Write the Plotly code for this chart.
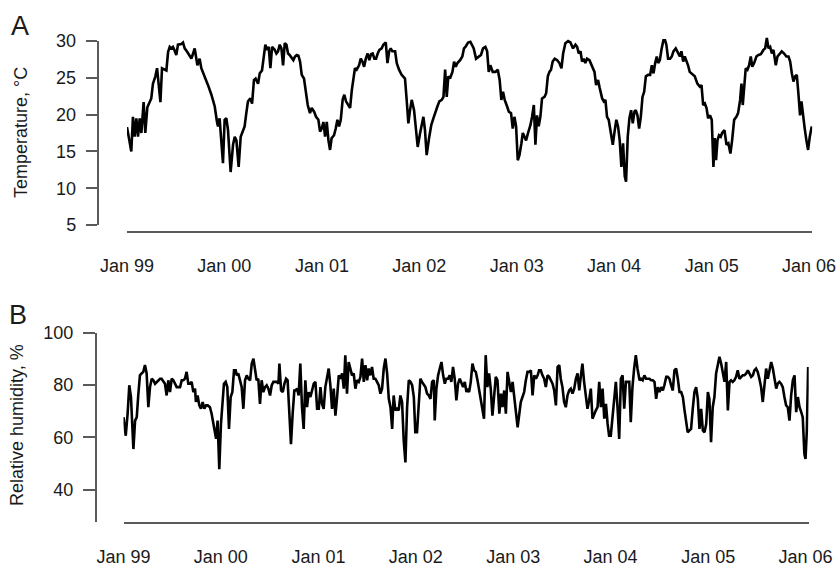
import numpy as np
import pandas as pd
import plotly.graph_objects as go

# ---------------- data (weeks since 1 Jan 1999, values) ----------------
temp_weeks = [0.0, 2.3, 3.2, 4.1, 5.0, 5.9, 6.8, 7.7, 8.9, 9.8, 10.9, 12.1, 13.0, 13.9, 15.2, 16.1, 17.0, 17.9, 18.75, 20.2,
              21.1, 22.0, 22.9, 23.75, 24.6, 25.5, 26.4, 27.3, 29.1, 30.0, 30.9, 32.3, 33.6, 34.5, 35.4, 36.25, 37.7, 38.9, 39.8, 41.6,
              43.4, 45.2, 47.0, 48.2, 48.75, 49.6, 50.5, 51.4, 52.3, 53.2, 54.1, 55.5, 56.8, 57.7, 58.6, 59.8, 60.9, 62.1, 63.0, 63.9,
              64.8, 66.1, 67.0, 68.0, 68.9, 70.2, 71.1, 72.3, 73.2, 74.1, 75.0, 75.9, 76.8, 77.7, 79.1, 80.0, 80.9, 81.8, 82.7, 83.6,
              84.5, 85.4, 86.25, 87.1, 89.1, 90.0, 90.9, 91.8, 92.7, 93.6, 94.8, 95.9, 96.8, 98.0, 98.9, 100.2, 101.25, 102.5, 103.4, 104.3,
              105.2, 106.1, 107.0, 107.9, 108.75, 109.6, 110.9, 111.8, 112.7, 113.6, 114.5, 115.5, 116.4, 117.3, 118.6, 119.5, 120.4, 121.25, 122.1, 123.0,
              124.3, 125.2, 126.1, 127.0, 127.9, 128.9, 129.8, 130.7, 131.6, 132.5, 133.4, 134.3, 135.2, 136.4, 137.3, 138.6, 139.5, 140.4, 141.25, 142.1,
              143.6, 144.5, 145.7, 147.1, 148.9, 149.8, 150.7, 151.6, 152.5, 153.75, 154.8, 155.7, 157.0, 157.9, 158.75, 159.6, 160.5, 161.9, 163.0, 164.1,
              165.4, 166.25, 167.3, 168.6, 169.5, 170.4, 171.25, 172.1, 173.0, 174.3, 175.2, 176.1, 177.0, 178.4, 179.6, 180.5, 181.25, 182.7, 183.9, 184.8,
              185.7, 186.96, 188.4, 189.6, 190.7, 191.96, 192.9, 193.75, 194.6, 195.9, 197.3, 198.6, 199.6, 200.5, 201.4, 202.3, 203.6, 204.5, 205.7, 206.6,
              207.5, 208.4, 209.3, 210.2, 211.25, 212.0, 212.9, 213.75, 214.8, 216.1, 216.96, 217.9, 218.75, 219.6, 220.5, 221.4, 222.3, 223.6, 224.5, 225.4,
              226.25, 227.1, 228.0, 229.1, 230.4, 231.6, 232.7, 233.6, 234.8, 236.25, 237.5, 238.9, 240.2, 241.1, 241.96, 242.9, 243.75, 244.6, 245.5, 246.4,
              247.7, 249.1, 250.4, 251.25, 252.3, 253.2, 254.5, 255.4, 256.25, 257.1, 258.0, 258.9, 260.2, 261.25, 262.1, 263.0, 263.9, 264.8, 265.7, 266.6,
              267.3, 268.2, 269.1, 270.0, 270.9, 271.8, 272.5, 273.4, 274.3, 275.2, 276.1, 277.0, 277.9, 279.1, 280.2, 281.1, 282.0, 282.9, 283.75, 284.5,
              285.4, 286.25, 287.3, 288.2, 288.9, 289.8, 290.9, 291.8, 292.7, 293.9, 294.8, 296.1, 296.96, 297.9, 298.75, 299.6, 300.5, 301.4, 302.9, 304.1,
              305.5, 306.8, 307.7, 308.6, 309.5, 310.4, 311.25, 312.3, 313.2, 314.1, 314.8, 315.5, 316.25, 317.1, 318.0, 318.75, 320.0, 321.1, 322.1, 323.2,
              324.1, 325.2, 326.4, 327.3, 328.4, 329.1, 329.8, 330.5, 331.4, 332.3, 333.2, 334.1, 334.9, 335.9, 337.1, 338.2, 339.5, 340.9, 341.8, 342.7,
              343.6, 344.5, 345.4, 346.25, 347.5, 348.4, 349.6, 350.7, 351.96, 353.2, 354.3, 355.2, 356.1, 356.96, 357.9, 358.75, 359.6, 360.5, 361.25, 362.1,
              363.0, 363.9, 364.8, 365.7, 366.75]
temp_vals = [18.3, 15.0, 19.7, 17.0, 19.5, 17.0, 19.5, 17.5, 21.7, 17.5, 21.0, 21.7, 22.2, 24.2, 25.2, 26.3, 23.6, 21.7, 26.3, 26.1,
             26.0, 28.5, 29.2, 29.0, 29.2, 28.7, 28.1, 29.5, 29.6, 29.8, 29.0, 28.5, 27.9, 27.6, 28.3, 29.0, 26.7, 27.6, 26.3, 25.2,
             24.0, 22.7, 21.1, 19.0, 18.4, 19.5, 16.5, 13.4, 19.3, 19.5, 17.9, 12.2, 15.9, 17.0, 16.5, 12.9, 17.0, 17.7, 18.4, 20.2,
             21.8, 22.2, 21.5, 24.7, 24.9, 24.2, 25.6, 26.0, 27.6, 29.5, 28.8, 29.2, 26.3, 29.2, 28.8, 28.3, 28.6, 29.5, 29.0, 26.7,
             29.7, 29.5, 28.3, 28.1, 27.4, 27.9, 28.1, 28.0, 27.2, 25.4, 24.9, 22.7, 21.3, 20.2, 20.9, 20.4, 19.7, 19.3, 17.7, 18.1,
             19.0, 17.0, 19.0, 16.5, 15.2, 16.8, 17.2, 18.1, 19.3, 18.4, 19.3, 22.0, 22.7, 21.8, 21.3, 20.9, 23.3, 24.7, 26.3, 26.1,
             26.7, 27.6, 27.2, 26.5, 27.6, 28.3, 27.4, 28.2, 28.3, 27.6, 27.6, 28.3, 28.8, 29.0, 29.5, 29.8, 27.0, 28.6, 29.0, 28.6,
             28.6, 27.0, 26.1, 25.4, 24.9, 22.0, 18.8, 20.6, 22.0, 20.6, 17.9, 15.6, 17.5, 18.6, 19.7, 17.9, 14.5, 17.0, 18.6, 19.5,
             20.6, 21.1, 21.8, 22.0, 22.4, 26.1, 22.4, 25.2, 24.9, 25.8, 27.2, 26.5, 27.0, 27.4, 27.9, 29.0, 29.2, 29.8, 29.9, 29.5,
             29.0, 27.6, 27.9, 28.1, 29.0, 29.2, 28.6, 25.8, 26.7, 25.8, 25.8, 26.1, 24.7, 22.0, 23.1, 22.0, 21.1, 20.4, 20.2, 18.1,
             19.7, 18.4, 13.8, 14.5, 16.1, 17.5, 17.0, 16.5, 17.5, 18.6, 19.7, 21.3, 15.9, 19.9, 18.4, 19.7, 22.2, 22.4, 22.9, 25.2,
             25.8, 26.1, 27.2, 27.6, 27.4, 27.0, 26.3, 28.3, 29.7, 30.0, 29.8, 29.0, 29.5, 29.2, 28.3, 28.6, 27.2, 27.6, 27.0, 27.6,
             27.4, 26.5, 25.8, 24.0, 24.7, 23.6, 22.2, 21.8, 22.0, 19.7, 19.3, 17.9, 15.9, 17.9, 19.3, 18.4, 16.5, 12.9, 16.1, 11.6,
             10.9, 17.0, 19.5, 20.6, 18.8, 20.4, 20.6, 19.9, 18.1, 19.7, 22.4, 23.1, 25.2, 25.4, 25.4, 26.7, 25.6, 27.0, 27.9, 27.0,
             27.4, 28.8, 30.1, 30.1, 29.5, 27.6, 27.6, 27.9, 28.6, 29.0, 28.6, 27.9, 28.6, 27.2, 27.9, 27.4, 26.7, 25.8, 25.4, 25.2,
             24.2, 23.8, 24.0, 21.3, 21.5, 20.9, 19.5, 19.9, 19.3, 12.9, 16.8, 13.8, 16.5, 17.2, 17.0, 17.5, 17.9, 15.9, 16.1, 14.7,
             16.5, 19.3, 19.7, 20.2, 22.0, 24.2, 21.3, 23.6, 26.3, 26.1, 26.7, 27.9, 26.5, 27.0, 27.9, 28.1, 28.2, 28.8, 29.0, 30.4,
             29.0, 29.2, 28.3, 28.8, 26.7, 27.9, 28.3, 28.6, 28.3, 27.9, 27.9, 27.2, 25.6, 24.5, 25.2, 25.4, 22.9, 19.9, 21.8, 19.7,
             18.1, 16.5, 15.2, 17.0, 18.4]

rh_weeks = [0.0, 1.2, 2.2, 3.1, 4.0, 5.3, 6.2, 7.1, 7.9, 8.8, 9.7, 10.6, 11.5, 12.4, 13.3, 14.2, 15.1, 16.0, 16.9, 17.8,
            18.7, 19.6, 20.4, 21.3, 22.2, 23.1, 24.0, 24.9, 25.8, 26.7, 27.6, 28.5, 29.4, 30.3, 31.2, 32.1, 32.9, 33.8, 34.7, 35.6,
            36.5, 37.4, 38.3, 38.8, 39.7, 40.6, 41.5, 42.4, 43.3, 44.2, 45.1, 46.3, 47.2, 48.1, 49.0, 49.6, 50.4, 51.3, 52.2, 53.1,
            53.8, 54.7, 55.6, 56.5, 57.4, 58.3, 59.2, 60.1, 60.6, 61.5, 62.4, 63.3, 64.2, 65.1, 66.0, 66.9, 67.8, 68.7, 69.6, 70.4,
            71.3, 72.2, 73.1, 74.0, 74.9, 75.8, 76.7, 77.6, 78.5, 79.4, 80.3, 81.2, 82.1, 83.0, 83.5, 84.4, 85.3, 86.2, 87.1, 87.9,
            88.8, 89.7, 90.6, 91.5, 92.1, 93.0, 93.8, 94.7, 95.6, 96.5, 97.4, 98.3, 99.2, 100.1, 101.0, 101.9, 102.8, 103.7, 104.6, 105.5,
            106.3, 107.2, 108.1, 109.0, 109.9, 110.8, 111.7, 112.6, 113.5, 114.4, 115.3, 116.2, 117.1, 118.0, 118.8, 119.7, 120.6, 121.5, 122.4, 123.3,
            124.2, 125.1, 126.0, 126.9, 127.8, 128.7, 129.6, 130.5, 131.3, 132.2, 133.1, 134.0, 134.9, 135.8, 136.7, 137.6, 138.5, 139.4, 140.3, 141.2,
            142.1, 143.0, 143.9, 144.7, 145.6, 146.5, 147.4, 148.3, 149.2, 150.1, 151.0, 151.9, 152.8, 153.7, 154.6, 155.5, 156.3, 157.2, 158.1, 159.0,
            159.9, 160.8, 161.7, 162.6, 163.5, 164.4, 165.3, 166.2, 166.7, 167.6, 168.5, 169.4, 170.3, 171.2, 172.1, 172.9, 173.8, 174.7, 175.6, 176.5,
            177.4, 178.3, 179.2, 180.1, 181.0, 181.9, 182.8, 183.7, 184.2, 185.1, 186.0, 186.9, 187.8, 188.7, 189.6, 190.5, 191.3, 192.2, 193.1, 194.0,
            194.9, 195.8, 196.7, 197.6, 198.5, 199.4, 200.3, 201.3, 202.2, 203.0, 203.9, 204.8, 205.7, 206.6, 207.5, 208.4, 209.3, 210.2, 211.1, 212.0,
            212.8, 213.7, 214.6, 215.5, 216.4, 217.3, 218.2, 219.1, 220.0, 220.9, 221.8, 222.6, 223.5, 224.4, 225.3, 226.2, 227.1, 228.0, 228.9, 229.8,
            230.7, 231.6, 232.5, 233.4, 234.2, 235.1, 236.0, 236.9, 237.8, 238.7, 239.6, 240.5, 241.4, 242.3, 243.2, 244.1, 245.0, 245.8, 246.7, 247.6,
            248.5, 249.4, 250.3, 251.2, 252.1, 253.0, 253.9, 254.8, 255.7, 256.6, 257.5, 258.4, 259.3, 260.1, 261.0, 261.9, 262.8, 263.7, 264.6, 265.5,
            266.4, 267.3, 268.2, 269.1, 270.0, 270.9, 271.7, 272.6, 273.5, 274.4, 275.3, 276.4, 277.2, 278.1, 279.0, 279.9, 280.8, 281.7, 282.6, 283.5,
            284.4, 285.3, 286.2, 287.1, 288.0, 288.9, 289.7, 290.7, 291.5, 292.4, 293.3, 294.2, 295.1, 296.0, 296.9, 297.8, 298.7, 299.6, 300.5, 301.4,
            302.2, 303.1, 304.0, 304.9, 305.8, 306.7, 307.6, 308.5, 309.4, 310.3, 311.2, 312.1, 313.0, 313.8, 314.7, 315.6, 316.5, 317.4, 318.3, 319.2,
            320.1, 321.0, 321.9, 322.8, 323.7, 324.6, 325.4, 326.3, 327.2, 328.1, 329.0, 329.9, 330.8, 331.7, 332.6, 333.5, 334.4, 335.3, 336.2, 337.1,
            337.9, 338.8, 339.7, 340.6, 341.5, 342.4, 343.3, 344.2, 345.1, 346.0, 346.9, 347.8, 348.7, 349.6, 350.4, 351.3, 352.2, 353.1, 354.0, 354.9,
            355.8, 356.7, 357.6, 358.5, 359.4, 360.3, 361.2, 362.1, 363.0, 363.8, 364.7, 365.3, 366.0, 366.7]
rh_vals = [67.7, 60.6, 69.0, 79.9, 75.4, 55.5, 66.4, 67.7, 76.0, 83.7, 84.4, 85.0, 87.6, 84.4, 71.5, 79.2, 82.4, 81.8, 80.5, 81.2,
           81.8, 82.4, 82.4, 81.2, 80.5, 76.0, 81.8, 77.3, 82.4, 81.8, 80.5, 79.2, 79.2, 79.2, 81.8, 81.8, 82.4, 85.0, 80.5, 80.5,
           81.2, 77.3, 78.6, 73.5, 76.0, 72.2, 70.9, 73.5, 70.9, 72.2, 72.2, 71.5, 69.0, 65.1, 61.3, 59.4, 66.4, 47.8, 65.1, 74.1,
           80.5, 81.2, 79.2, 63.2, 75.4, 77.3, 85.6, 85.6, 83.7, 84.4, 81.8, 79.2, 70.9, 81.8, 83.7, 82.4, 81.8, 88.2, 90.1, 85.6,
           81.8, 82.4, 72.8, 81.8, 77.3, 79.2, 79.9, 78.6, 76.0, 79.9, 81.2, 81.2, 81.2, 80.5, 88.2, 77.9, 77.3, 80.5, 82.4, 81.8,
           69.0, 57.4, 69.0, 77.9, 77.9, 78.6, 76.0, 88.2, 71.5, 63.2, 81.8, 71.5, 77.3, 75.4, 77.9, 80.5, 81.2, 70.9, 70.9, 79.2,
           72.8, 70.9, 79.2, 83.7, 86.3, 79.9, 70.9, 78.6, 68.3, 75.4, 83.7, 82.4, 84.4, 78.6, 91.4, 76.7, 88.8, 86.3, 83.7, 84.4,
           78.6, 81.8, 81.2, 83.1, 90.1, 81.2, 87.6, 81.8, 86.3, 83.7, 86.9, 82.4, 82.4, 81.2, 79.9, 76.7, 78.6, 86.3, 90.1, 84.4,
           74.7, 71.5, 63.2, 76.0, 70.3, 70.9, 70.3, 76.0, 73.5, 58.7, 50.4, 71.5, 81.8, 81.2, 79.9, 75.4, 61.9, 61.9, 74.1, 82.4,
           81.2, 79.9, 79.2, 76.7, 76.0, 74.7, 81.2, 81.8, 66.4, 78.6, 83.7, 86.3, 88.8, 83.7, 80.5, 82.4, 82.4, 83.7, 81.2, 86.9,
           82.4, 74.1, 80.5, 82.4, 80.5, 79.2, 81.2, 77.3, 78.6, 77.3, 81.2, 88.2, 85.6, 85.0, 81.8, 77.9, 75.4, 70.9, 67.1, 91.4,
           79.2, 84.4, 78.6, 68.3, 76.0, 83.1, 81.8, 69.0, 76.7, 71.5, 77.9, 69.0, 85.0, 81.2, 77.3, 81.2, 76.0, 70.9, 63.8, 69.0,
           73.5, 75.4, 77.3, 81.8, 85.0, 85.0, 85.6, 76.0, 83.7, 82.4, 83.7, 85.6, 85.6, 83.7, 82.4, 79.2, 83.7, 83.1, 81.8, 80.5,
           77.9, 72.2, 86.9, 87.6, 82.4, 79.2, 73.5, 71.5, 76.0, 77.9, 78.6, 76.7, 78.6, 82.4, 84.4, 77.9, 83.7, 88.2, 81.2, 76.0,
           70.9, 74.1, 78.6, 67.1, 69.0, 70.3, 71.5, 81.2, 71.5, 78.6, 67.1, 72.8, 65.1, 60.6, 60.6, 67.1, 73.5, 81.2, 71.5, 59.4,
           82.4, 83.7, 70.9, 81.2, 81.2, 81.2, 65.8, 79.2, 86.3, 91.4, 86.3, 81.8, 82.4, 81.8, 83.7, 82.4, 82.4, 82.4, 81.8, 81.8,
           81.2, 74.7, 79.2, 77.3, 79.2, 77.9, 79.9, 83.1, 83.1, 82.4, 79.9, 77.9, 85.6, 86.3, 82.4, 77.3, 77.3, 75.4, 70.3, 64.5,
           61.9, 62.6, 63.2, 70.9, 77.3, 79.2, 74.7, 63.2, 70.9, 62.6, 61.9, 65.1, 77.3, 74.7, 58.1, 71.5, 75.4, 84.4, 88.2, 90.8,
           88.2, 84.4, 81.2, 88.8, 70.3, 81.2, 81.8, 81.2, 81.8, 83.1, 85.6, 82.4, 83.1, 83.7, 83.7, 84.4, 85.6, 84.4, 83.1, 83.7,
           85.6, 86.3, 85.0, 82.4, 79.2, 73.5, 79.2, 86.3, 82.4, 86.3, 88.8, 86.3, 82.4, 78.6, 80.5, 81.2, 80.5, 79.2, 75.4, 72.2,
           71.5, 66.4, 76.0, 81.8, 83.7, 69.6, 75.4, 71.5, 69.6, 67.7, 53.6, 51.7, 62.6, 86.9]

year_ticks = ["1999-01-01", "2000-01-01", "2001-01-01", "2002-01-01", "2003-01-01", "2004-01-01", "2005-01-01", "2006-01-01"]
year_labels = ["Jan 99", "Jan 00", "Jan 01", "Jan 02", "Jan 03", "Jan 04", "Jan 05", "Jan 06"]
temp_ticks = [5, 10, 15, 20, 25, 30]
rh_ticks = [40, 60, 80, 100]

# ---------------- build ----------------
start = pd.Timestamp("1999-01-01")
temp_dates = start + pd.to_timedelta(np.array(temp_weeks) * 7, unit="D")
rh_dates = start + pd.to_timedelta(np.array(rh_weeks) * 7, unit="D")

W, H = 839, 569
def px(x): return x / W
def py(y): return 1 - y / H

FONT = "Liberation Sans, Arial, Helvetica, sans-serif"
AXC = "#5a5a5a"
TXC = "#1a1a1a"
x_range = ["1999-01-01", "2006-01-13"]

fig = go.Figure()
# panel A data trace on an invisible y-axis with the same scale as the visible axis
fig.add_trace(go.Scatter(x=temp_dates, y=temp_vals, mode="lines", xaxis="x", yaxis="y3",
                         line=dict(color="black", width=2.6), showlegend=False, hoverinfo="skip"))
# empty trace to attach the visible panel A y-axis
fig.add_trace(go.Scatter(x=[], y=[], xaxis="x", yaxis="y", showlegend=False))
fig.add_trace(go.Scatter(x=rh_dates, y=rh_vals, mode="lines", xaxis="x2", yaxis="y2",
                         line=dict(color="black", width=2.6), showlegend=False, hoverinfo="skip"))

# panel A geometry: 30 at y=41, 5 at y=225
ppu_a = (225 - 41) / 25.0
yA_top, yA_bot = 41, 225
y3_lo, y3_hi = 2.0, 33.0
y3_bot = yA_bot + (5 - y3_lo) * ppu_a
y3_top = yA_top - (y3_hi - 30) * ppu_a

tickfont = dict(family=FONT, size=18, color=TXC)

fig.update_layout(
    width=W, height=H, autosize=False,
    margin=dict(l=0, r=0, t=0, b=0, pad=0, autoexpand=False),
    paper_bgcolor="white", plot_bgcolor="rgba(0,0,0,0)",
    showlegend=False,
    xaxis=dict(domain=[px(127), px(812.2)], range=x_range, type="date",
               anchor="free", position=py(232), showline=True, linecolor=AXC, linewidth=1.5,
               showgrid=False, zeroline=False, ticks="", tickvals=year_ticks, ticktext=year_labels,
               tickfont=tickfont, ticklabelstandoff=18, automargin=False),
    yaxis=dict(domain=[py(yA_bot), py(yA_top)], range=[5, 30], anchor="free", position=px(97.5),
               showline=True, linecolor=AXC, linewidth=1.5, ticks="outside", ticklen=11,
               tickcolor=AXC, tickwidth=1.5, tickvals=temp_ticks, showgrid=False, zeroline=False,
               tickfont=tickfont, ticklabelstandoff=6, automargin=False),
    yaxis3=dict(domain=[py(y3_bot), py(y3_top)], range=[y3_lo, y3_hi], anchor="x", visible=False,
                showgrid=False, zeroline=False, automargin=False),
    xaxis2=dict(domain=[px(123.5), px(808.7)], range=x_range, type="date",
                anchor="free", position=py(523), showline=True, linecolor=AXC, linewidth=1.5,
                showgrid=False, zeroline=False, ticks="", tickvals=year_ticks, ticktext=year_labels,
                tickfont=tickfont, ticklabelstandoff=18, automargin=False),
    yaxis2=dict(domain=[py(522), py(332.7)], range=[27.6, 100], anchor="free", position=px(95.7),
                showline=True, linecolor=AXC, linewidth=1.5, ticks="outside", ticklen=12,
                tickcolor=AXC, tickwidth=1.5, tickvals=rh_ticks, showgrid=False, zeroline=False,
                tickfont=tickfont, ticklabelstandoff=6, automargin=False),
    annotations=[
        dict(text="A", x=px(9), y=py(26), xref="paper", yref="paper", xanchor="left", yanchor="middle",
             showarrow=False, font=dict(family=FONT, size=27, color=TXC)),
        dict(text="B", x=px(7), y=py(315), xref="paper", yref="paper", xanchor="left", yanchor="middle",
             showarrow=False, font=dict(family=FONT, size=27, color=TXC)),
        dict(text="Temperature, \u00b0C", x=px(21), y=py(133), xref="paper", yref="paper",
             xanchor="center", yanchor="middle", textangle=-90, showarrow=False,
             font=dict(family=FONT, size=18, color=TXC)),
        dict(text="Relative humidity, %", x=px(17), y=py(425), xref="paper", yref="paper",
             xanchor="center", yanchor="middle", textangle=-90, showarrow=False,
             font=dict(family=FONT, size=18, color=TXC)),
    ],
)

fig.write_html("out.html")
